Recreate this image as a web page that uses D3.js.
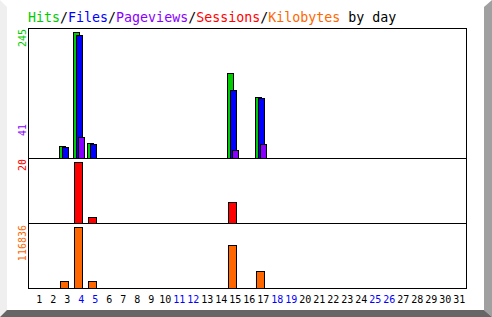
<!DOCTYPE html>
<html>
<head>
<meta charset="utf-8">
<script src="https://cdn.jsdelivr.net/npm/d3@7"></script>
<style>
  html, body { margin: 0; padding: 0; background: #fff; }
  svg { display: block; }
  text { font-family: "DejaVu Sans Mono", monospace; }
</style>
</head>
<body>
<svg id="chart" width="492" height="317"></svg>
<script>
const days = d3.range(1, 32);
const weekendDays = [4, 5, 11, 12, 18, 19, 25, 26];
const hits     = [0,0,23,245,29,0,0,0,0,0,0,0,0,0,165,0,119,0,0,0,0,0,0,0,0,0,0,0,0,0,0];
const files    = [0,0,21,240,27,0,0,0,0,0,0,0,0,0,132,0,116,0,0,0,0,0,0,0,0,0,0,0,0,0,0];
const pages    = [0,0,0,41,0,0,0,0,0,0,0,0,0,0,16,0,27,0,0,0,0,0,0,0,0,0,0,0,0,0,0];
const sessions = [0,0,0,20,2,0,0,0,0,0,0,0,0,0,7,0,0,0,0,0,0,0,0,0,0,0,0,0,0,0,0];
const kbytes   = [0,0,12800,116836,12800,0,0,0,0,0,0,0,0,0,82200,0,32700,0,0,0,0,0,0,0,0,0,0,0,0,0,0];
const titleParts = [
  {t: "Hits", c: "#00cc00"}, {t: "/", c: "#000"},
  {t: "Files", c: "#0000ff"}, {t: "/", c: "#000"},
  {t: "Pageviews", c: "#8800ff"}, {t: "/", c: "#000"},
  {t: "Sessions", c: "#ff0000"}, {t: "/", c: "#000"},
  {t: "Kilobytes", c: "#ff6600"}, {t: " by day", c: "#000"}
];

const C = {hits: "#00cc00", files: "#0000ff", pages: "#8800ff", sessions: "#ff0000", kbytes: "#ff6600"};
const W = 492, H = 317;
const svg = d3.select("#chart");

// 3D border
svg.append("rect").attr("width", W).attr("height", H).attr("fill", "#fff");
svg.append("polygon").attr("points", `0,0 7,7 7,310 0,317`).attr("fill", "#efefef");
svg.append("polygon").attr("points", `492,0 492,317 484,310 484,7`).attr("fill", "#a0a0a0");
svg.append("polygon").attr("points", `0,317 492,317 484,310 7,310`).attr("fill", "#666666");

// x scale: left edge of day slot
const x = d3.scaleLinear().domain([1, 31]).range([31, 31 + 14 * 30]);

// panel scales
const yTop = d3.scaleLinear().domain([0, d3.max(hits)]).range([158, 32]);
const ySes = d3.scaleLinear().domain([0, d3.max(sessions)]).range([223, 162]);
const yKb  = d3.scaleLinear().domain([0, d3.max(kbytes)]).range([288, 227]);

// frame
const L = 28, R = 466, T = 28, B = 288;
svg.append("rect").attr("x", L + 0.5).attr("y", T + 0.5).attr("width", R - L).attr("height", B - T)
  .attr("fill", "none").attr("stroke", "#000");
[158, 223].forEach(yy => svg.append("line").attr("x1", L).attr("x2", R + 1)
  .attr("y1", yy + 0.5).attr("y2", yy + 0.5).attr("stroke", "#000"));

function bars(values, scale, off, w, color) {
  svg.append("g").selectAll("rect")
    .data(days.map((d, i) => ({d, v: values[i]})).filter(o => o.v > 0))
    .join("rect")
    .attr("x", o => Math.round(x(o.d)) + off + 0.5)
    .attr("y", o => Math.round(scale(o.v)) + 0.5)
    .attr("width", w)
    .attr("height", o => scale(0) - Math.round(scale(o.v)))
    .attr("fill", color).attr("stroke", "#000");
}
bars(hits, yTop, 0, 6, C.hits);
bars(files, yTop, 3, 6, C.files);
bars(pages, yTop, 5, 6, C.pages);
bars(sessions, ySes, 1, 8, C.sessions);
bars(kbytes, yKb, 1, 8, C.kbytes);

// title
const title = svg.append("text").attr("x", 28).attr("y", 22).attr("font-size", "13.3px");
titleParts.forEach(p => title.append("tspan").attr("fill", p.c).text(p.t));
title.selectAll("tspan").style("white-space", "pre");

// y labels (rotated)
function ylab(txt, yEnd, color, anchor) {
  svg.append("text").attr("transform", `translate(26,${yEnd}) rotate(-90)`)
    .attr("text-anchor", anchor || "end").attr("font-size", "10px").attr("fill", color).text(txt);
}
ylab(String(d3.max(hits)), 29, C.hits);
ylab(String(d3.max(pages)), Math.round(yTop(d3.max(pages))) - 1, C.pages, "start");
ylab(String(d3.max(sessions)), 159, C.sessions);
ylab(String(d3.max(kbytes)), 225, C.kbytes);

// x labels
svg.append("g").selectAll("text").data(days).join("text")
  .attr("x", d => x(d) + 8.3).attr("y", 303)
  .attr("text-anchor", "middle").attr("font-size", "10px")
  .attr("fill", d => weekendDays.includes(d) ? "#0000ff" : "#000")
  .text(d => d);
</script>
</body>
</html>
